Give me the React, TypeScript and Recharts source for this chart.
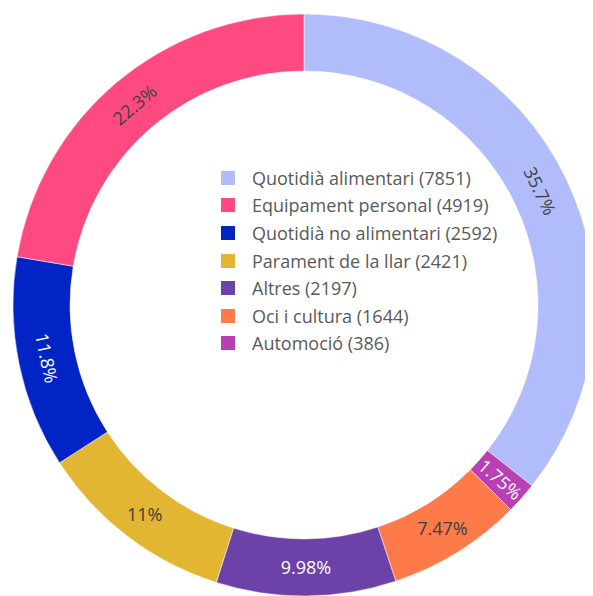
import React from "react";
import { PieChart, Pie, Cell, Legend } from "recharts";

// Slice order (clockwise from 12 o'clock)
const categories = [
  "Quotidià alimentari",
  "Automoció",
  "Oci i cultura",
  "Altres",
  "Parament de la llar",
  "Quotidià no alimentari",
  "Equipament personal",
];
const values = [7851, 386, 1644, 2197, 2421, 2592, 4919];
const colors = ["#b1bcfb", "#b83fb4", "#fe7a48", "#6c41a8", "#e2b532", "#0224c4", "#fe4a80"];

const data = categories.map((name, i) => ({ name, value: values[i], color: colors[i] }));
const legendItems = [...data].sort((a, b) => b.value - a.value);

const FONT = "'Open Sans', 'Noto Sans', sans-serif";
const RAD = Math.PI / 180;

function isDark(hex: string) {
  const r = parseInt(hex.slice(1, 3), 16);
  const g = parseInt(hex.slice(3, 5), 16);
  const b = parseInt(hex.slice(5, 7), 16);
  return 0.299 * r + 0.587 * g + 0.114 * b < 125;
}

const renderLabel = (props: any) => {
  const { cx, cy, midAngle, innerRadius, outerRadius, percent, index } = props;
  const r = (innerRadius + outerRadius) / 2;
  const x = cx + r * Math.cos(-midAngle * RAD);
  const y = cy + r * Math.sin(-midAngle * RAD);
  const theta = 90 - midAngle; // clockwise from top
  let rot: number;
  if (percent < 0.03) {
    rot = theta - 90; // radial
  } else {
    rot = theta;
  }
  rot = ((rot % 360) + 360) % 360;
  if (rot > 90 && rot <= 270) rot -= 180;
  if (rot > 270) rot -= 360;
  if (percent >= 0.03 && Math.abs(rot) < 39) rot = 0;
  const txt = Number((percent * 100).toPrecision(3)).toString() + "%";
  const fill = isDark(colors[index]) ? "#ffffff" : "#404040";
  return (
    <text
      x={x}
      y={y}
      fill={fill}
      fontSize={18}
      fontFamily={FONT}
      textAnchor="middle"
      dominantBaseline="central"
      transform={`rotate(${rot} ${x} ${y})`}
    >
      {txt}
    </text>
  );
};

const LegendContent = () => (
  <div style={{ fontFamily: FONT, fontSize: 18, color: "#595959" }}>
    {legendItems.map((d) => (
      <div key={d.name} style={{ display: "flex", alignItems: "center", height: 27.6 }}>
        <span
          style={{ width: 14, height: 14, background: d.color, display: "inline-block", marginRight: 17, flex: "none" }}
        />
        <span style={{ whiteSpace: "nowrap" }}>{`${d.name} (${d.value})`}</span>
      </div>
    ))}
  </div>
);

export default function App() {
  return (
    <div style={{ width: 585, height: 588, overflow: "hidden", position: "relative" }}>
      <PieChart width={585} height={588} margin={{ top: 0, right: 0, bottom: 0, left: 0 }}>
        <Pie
          data={data}
          dataKey="value"
          nameKey="name"
          cx={296}
          cy={297}
          innerRadius={234}
          outerRadius={291}
          startAngle={90}
          endAngle={-270}
          stroke="#ffffff"
          strokeWidth={0.5}
          label={renderLabel}
          labelLine={false}
          isAnimationActive={false}
        >
          {data.map((d) => (
            <Cell key={d.name} fill={d.color} />
          ))}
        </Pie>
        <Legend
          content={<LegendContent />}
          wrapperStyle={{ position: "absolute", left: 213, top: 156, width: 330, height: 200 }}
        />
      </PieChart>
    </div>
  );
}
